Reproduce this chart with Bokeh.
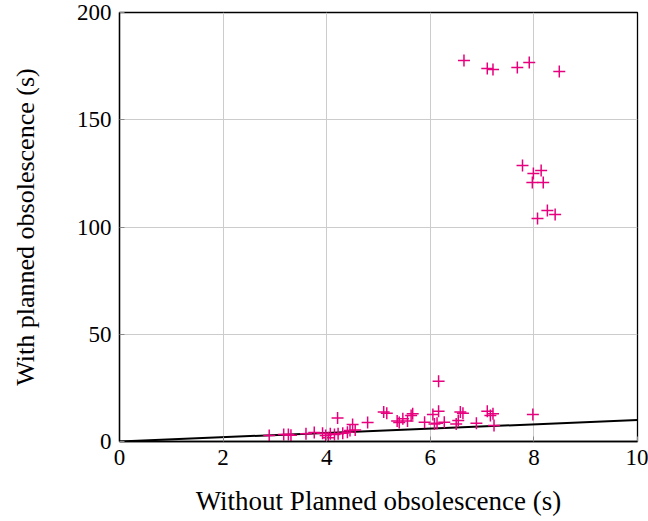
from bokeh.plotting import figure
from bokeh.models import FixedTicker, Range1d
from bokeh.embed import file_html
from bokeh.resources import INLINE

without_po = [6.65, 7.10, 7.21, 7.68, 7.91, 8.49,
              7.78, 8.14, 7.99, 7.97, 8.18, 8.26, 8.41, 8.07,
              2.89, 3.17, 3.26, 3.31, 3.60, 3.76, 3.92, 3.98, 4.03, 4.07,
              4.21, 4.15, 4.22, 4.31, 4.40, 4.45, 4.50, 4.55, 4.79, 5.10,
              5.16, 5.36, 5.40,
              6.16, 5.47, 5.56, 5.66, 5.63, 5.89, 6.05, 6.16, 6.08, 6.13,
              6.27, 6.50, 6.54, 6.58, 6.63, 6.89, 7.10, 7.16, 7.21, 7.23, 7.98]
with_po = [177.6, 173.9, 173.4, 174.4, 176.7, 172.5,
           128.7, 126.3, 124.9, 120.7, 120.7, 107.7, 105.8, 104.0,
           2.8, 3.3, 3.3, 2.9, 3.6, 4.2, 3.9, 2.8, 1.7, 3.6,
           11.0, 3.3, 3.6, 3.9, 4.3, 5.1, 7.9, 5.4, 8.9, 13.7,
           13.2, 9.5, 8.9,
           28.1, 10.6, 9.5, 12.9, 12.1, 9.0, 12.6, 14.1, 8.2, 8.5,
           9.0, 8.2, 9.8, 13.7, 13.2, 8.5, 14.1, 12.1, 12.9, 7.5, 12.6]
ref_x = [0, 10]
ref_y = [0, 10]
x_ticks = [0, 2, 4, 6, 8, 10]
y_ticks = [0, 50, 100, 150, 200]

FONT = "Liberation Serif"

p = figure(width=648, height=521, output_backend="svg", toolbar_location=None,
           x_range=Range1d(0, 10), y_range=Range1d(0, 200),
           min_border_left=119, min_border_right=11, min_border_top=12, min_border_bottom=80)

p.line(ref_x, ref_y, line_color="black", line_width=2)
p.scatter(without_po, with_po, marker="cross", size=12, line_color="#e6007e",
          line_width=1.5, fill_color=None)

for ax, ticks in ((p.xaxis[0], x_ticks), (p.yaxis[0], y_ticks)):
    ax.ticker = FixedTicker(ticks=ticks)
    ax.major_label_text_font = FONT
    ax.major_label_text_font_size = "23px"
    ax.major_label_text_color = "black"
    ax.axis_label_text_font = FONT
    ax.axis_label_text_font_size = "26px"
    ax.axis_label_text_font_style = "normal"
    ax.axis_label_text_color = "black"
    ax.axis_line_color = "black"
    ax.axis_line_width = 1.3
    ax.major_tick_in = 5
    ax.major_tick_out = 0
    ax.major_tick_line_color = "#888888"
    ax.minor_tick_line_color = None
    ax.major_label_standoff = 8

p.xaxis[0].axis_label = "Without Planned obsolescence (s)"
p.yaxis[0].axis_label = "With planned obsolescence (s)"
p.xaxis[0].axis_label_text_font_size = "27px"
p.xaxis[0].axis_label_standoff = 18
p.yaxis[0].axis_label_standoff = 34

p.xgrid.ticker = FixedTicker(ticks=x_ticks)
p.ygrid.ticker = FixedTicker(ticks=y_ticks)
p.grid.grid_line_color = "#cccccc"
p.grid.grid_line_width = 1
p.outline_line_color = "black"
p.outline_line_width = 1.3

open("out.html", "w").write(file_html(p, INLINE))
